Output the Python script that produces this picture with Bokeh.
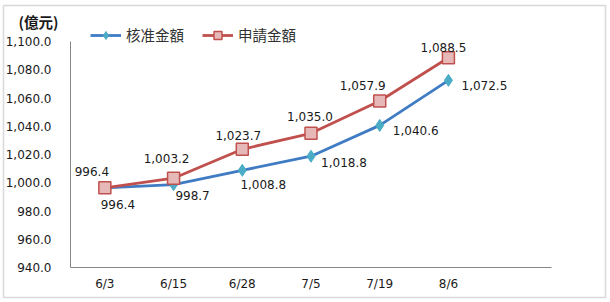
from bokeh.plotting import figure
from bokeh.models import (Range1d, FixedTicker, NumeralTickFormatter, LinearAxis,
                          ColumnDataSource, LabelSet, Legend, LegendItem, BoxAnnotation, Label)
from bokeh.core.properties import value
from bokeh.embed import file_html
from bokeh.resources import INLINE

# ---- data ----
dates = ["6/3", "6/15", "6/28", "7/5", "7/19", "8/6"]
approved = [996.4, 998.7, 1008.8, 1018.8, 1040.6, 1072.5]   # 核准金額
applied = [996.4, 1003.2, 1023.7, 1035.0, 1057.9, 1088.5]    # 申請金額
y_ticks = [940, 960, 980, 1000, 1020, 1040, 1060, 1080, 1100]
unit_label = "(億元)"
name_approved = "核准金額"
name_applied = "申請金額"

# ---- styles / layout ----
BLUE = "#3f7cc4"
TEAL = "#4bacc6"
RED = "#c0504d"
PINK = "#e6b9b8"
AXIS = "#868686"
NUM_FONT = "DejaVu Sans"
CJK_FONT = "Noto Sans CJK TC"

W, H = 610, 302
PL, PR, PT, PB = 70, 551, 41, 267      # plot-area box in canvas px
n_slots = len(dates) + 1               # one empty slot at the right end
slot = (PR - PL) / n_slots
y_lo, y_hi = y_ticks[0], y_ticks[-1]
ppu = (PB - PT) / (y_hi - y_lo)
x_start = -0.5 - PL / slot
x_end = x_start + W / slot
y_start = y_lo - (H - PB) / ppu
y_end = y_hi + PT / ppu

xi = list(range(len(dates)))

p = figure(width=W, height=H, output_backend="svg", toolbar_location=None,
           x_range=Range1d(x_start, x_end), y_range=Range1d(y_start, y_end),
           frame_width=W, frame_height=H, min_border=0,
           x_axis_location=None, y_axis_location=None)
p.outline_line_color = None
p.xgrid.grid_line_color = None
p.ygrid.grid_line_color = None
p.background_fill_color = "white"
p.border_fill_color = "white"

yax = LinearAxis(ticker=FixedTicker(ticks=y_ticks), formatter=NumeralTickFormatter(format="0,0.0"),
                 fixed_location=-0.5, bounds=(y_lo, y_hi))
xax = LinearAxis(ticker=FixedTicker(ticks=xi), major_label_overrides={i: d for i, d in zip(xi, dates)},
                 fixed_location=y_lo, bounds=(-0.5, n_slots - 0.5))
for ax in (xax, yax):
    ax.axis_line_color = AXIS
    ax.major_tick_line_color = None
    ax.minor_tick_line_color = None
    ax.major_tick_out = 0
    ax.major_tick_in = 0
    ax.minor_tick_out = 0
    ax.minor_tick_in = 0
    ax.major_label_text_font = NUM_FONT
    ax.major_label_text_font_size = "12px"
    ax.major_label_text_color = "#1a1a1a"
yax.major_label_standoff = 19
xax.major_label_standoff = 9
p.add_layout(yax, "left")
p.add_layout(xax, "below")

src_a = ColumnDataSource(dict(x=xi, y=approved,
                              t=["{:,.1f}".format(v) for v in approved]))
src_b = ColumnDataSource(dict(x=xi, y=applied,
                              t=["{:,.1f}".format(v) for v in applied]))

la = p.line("x", "y", source=src_a, line_color=BLUE, line_width=2.8)
ma = p.scatter("x", "y", source=src_a, marker="diamond", size=12,
               fill_color=TEAL, line_color=TEAL)
lb = p.line("x", "y", source=src_b, line_color=RED, line_width=2.8)
mb = p.scatter("x", "y", source=src_b, marker="square", size=12,
               fill_color=PINK, line_color=RED, line_width=1.5)

# data labels (offsets in screen px)
dx_a = [13, 19, 21, 33, 36, 36]
dy_a = [-17, -11, -14, -6, -5, -5]
dx_b = [-13, -7, -4, -1, -17, -5]
dy_b = [16, 20, 14, 17, 15, 10]
src_a.data["dx"] = dx_a
src_a.data["dy"] = dy_a
src_b.data["dx"] = dx_b
src_b.data["dy"] = dy_b
for src in (src_a, src_b):
    p.add_layout(LabelSet(x="x", y="y", text="t", source=src, x_offset="dx", y_offset="dy",
                          text_align="center", text_baseline="middle",
                          text_font=value(NUM_FONT), text_font_size="12px",
                          text_color="#1a1a1a"))

legend = Legend(items=[LegendItem(label=name_approved, renderers=[la, ma]),
                       LegendItem(label=name_applied, renderers=[lb, mb])],
                location=(90, H - 45), orientation="horizontal",
                glyph_width=31, glyph_height=20, label_height=20,
                label_standoff=5, spacing=18, padding=0, margin=0,
                border_line_color=None, background_fill_alpha=0,
                label_text_font=CJK_FONT, label_text_font_size="14.5px",
                label_text_color="#333333")
p.add_layout(legend, "center")

p.add_layout(Label(x=18, y=H - 21, x_units="screen", y_units="screen", text=unit_label,
                   text_font=CJK_FONT, text_font_size="14.5px", text_font_style="bold",
                   text_baseline="middle", text_align="left", text_color="#1a1a1a"))

p.add_layout(BoxAnnotation(left=3, right=605, top=5, bottom=297,
                           left_units="canvas", right_units="canvas",
                           top_units="canvas", bottom_units="canvas",
                           fill_alpha=0, line_color="#808080", line_width=1.5))

open("out.html", "w").write(file_html(p, INLINE))
